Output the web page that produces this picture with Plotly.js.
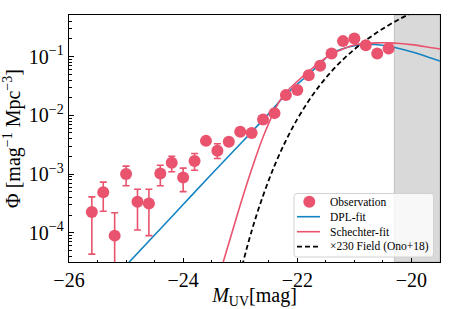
<!DOCTYPE html>
<html>
<head>
<meta charset="utf-8">
<script src="https://cdn.plot.ly/plotly-3.0.1.min.js"></script>
<style>html,body{margin:0;padding:0;background:#fff}#chart{width:463px;height:309px}</style>
</head>
<body>
<div id="chart"></div>
<script>
// Observed luminosity function
const M_obs = [-25.6,-25.4,-25.2,-25.0,-24.8,-24.6,-24.4,-24.2,-24.0,-23.8,-23.6,-23.4,-23.2,-23.0,-22.8,-22.6,-22.4,-22.2,-22.0,-21.8,-21.6,-21.4,-21.2,-21.0,-20.8,-20.6,-20.4];
const phi_obs = [2.26e-4,4.89e-4,8.9e-5,1.0e-3,3.35e-4,3.15e-4,1.02e-3,1.55e-3,8.7e-4,1.67e-3,3.67e-3,2.48e-3,3.53e-3,5.23e-3,5.02e-3,8.5e-3,1.09e-2,2.21e-2,2.69e-2,4.84e-2,6.97e-2,0.1135,0.184,0.204,0.157,0.1135,0.138];
const err_plus = [1.81e-4,2.37e-4,1.30e-4,3.6e-4,2.15e-4,2.35e-4,3.9e-4,4.6e-4,3.9e-4,5.7e-4,5e-4,8e-4,4e-4,5e-4,5e-4,8e-4,1e-3,2e-3,2.5e-3,4e-3,6e-3,1e-2,1.5e-2,1.6e-2,1.3e-2,1e-2,1.1e-2];
const err_minus = [1.83e-4,2.57e-4,8.5e-5,3.7e-4,2.24e-4,2.26e-4,3.9e-4,4.6e-4,3.7e-4,5.1e-4,4.5e-4,6.4e-4,3.5e-4,4.5e-4,4.5e-4,7e-4,9e-4,1.8e-3,2.2e-3,3.5e-3,5e-3,9e-3,1.3e-2,1.4e-2,1.1e-2,9e-3,1e-2];

// DPL fit
const M_dpl = [-25.0,-24.5,-24.0,-23.5,-23.0,-22.5,-22.2,-22.0,-21.8,-21.6,-21.4,-21.2,-21.0,-20.8,-20.6,-20.4,-20.2,-20.0,-19.75,-19.5];
const phi_dpl = [2.77e-5,9.12e-5,3.02e-4,1.0e-3,3.24e-3,1.07e-2,2.26e-2,3.39e-2,5.01e-2,7.67e-2,0.1135,0.1365,0.153,0.162,0.160,0.150,0.1365,0.1216,0.102,0.0841];

// Schechter fit
const M_sch = [-23.35,-23.2,-23.0,-22.8,-22.6,-22.4,-22.3,-22.2,-22.0,-21.8,-21.6,-21.4,-21.2,-21.0,-20.8,-20.6,-20.4,-20.2,-20.0,-19.75,-19.5];
const phi_sch = [2.14e-5,6.61e-5,2.95e-4,1.20e-3,4.27e-3,1.20e-2,1.82e-2,2.45e-2,3.80e-2,5.62e-2,8.13e-2,0.1096,0.1349,0.1585,0.168,0.1718,0.1718,0.168,0.1603,0.148,0.1349];

// x230 field (Ono+18)
const M_field = [-23.0,-22.8,-22.6,-22.4,-22.2,-22.0,-21.8,-21.6,-21.4,-21.2,-21.0,-20.8,-20.6,-20.4,-20.2,-20.0];
const phi_field = [2.04e-5,1.07e-4,4.27e-4,1.38e-3,3.72e-3,8.63e-3,1.77e-2,3.30e-2,5.62e-2,8.91e-2,0.133,0.190,0.260,0.344,0.442,0.553];

const x_ticks = [-26,-24,-22,-20];
const x_ticktext = ['\u221226','\u221224','\u221222','\u221220'];
const y_ticks = [1e-4,1e-3,1e-2,1e-1];
const y_ticktext = ['10<sup>\u22124</sup>','10<sup>\u22123</sup>','10<sup>\u22122</sup>','10<sup>\u22121</sup>'];
const shade_range = [-20.3, -19.5];
const legend_labels = ['Observation','DPL-fit','Schechter-fit','\u00d7230 Field (Ono+18)'];

const pink = '#e9536e';
const blue = '#1483c2';
const font = 'Liberation Serif, Times New Roman, serif';

// plot area in pixels (for the hand-drawn legend box)
const PL = 69, PR = 440, PT = 15, PB = 262;
const px = v => (v - PL) / (PR - PL);
const py = v => (PB - v) / (PB - PT);

const traces = [
  {x: M_dpl, y: phi_dpl, mode: 'lines', name: legend_labels[1],
   line: {color: blue, width: 1.6, shape: 'spline'}},
  {x: M_sch, y: phi_sch, mode: 'lines', name: legend_labels[2],
   line: {color: pink, width: 1.6, shape: 'spline'}},
  {x: M_field, y: phi_field, mode: 'lines', name: legend_labels[3],
   line: {color: '#000', width: 1.8, dash: '5px,3px', shape: 'spline'}},
  {x: M_obs, y: phi_obs, mode: 'markers', name: legend_labels[0],
   marker: {color: pink, size: 12},
   error_y: {type: 'data', symmetric: false, array: err_plus, arrayminus: err_minus,
             color: pink, thickness: 1.6, width: 3.5}}
];

// legend box (rounded rectangle)
const bx0 = 294, bx1 = 433.5, by0 = 193.5, by1 = 257, r = 3;
function roundRectPath() {
  const X = px, Y = py;
  return `M ${X(bx0 + r)} ${Y(by0)} L ${X(bx1 - r)} ${Y(by0)} Q ${X(bx1)} ${Y(by0)} ${X(bx1)} ${Y(by0 + r)} ` +
         `L ${X(bx1)} ${Y(by1 - r)} Q ${X(bx1)} ${Y(by1)} ${X(bx1 - r)} ${Y(by1)} ` +
         `L ${X(bx0 + r)} ${Y(by1)} Q ${X(bx0)} ${Y(by1)} ${X(bx0)} ${Y(by1 - r)} ` +
         `L ${X(bx0)} ${Y(by0 + r)} Q ${X(bx0)} ${Y(by0)} ${X(bx0 + r)} ${Y(by0)} Z`;
}
const rowY = [201.7, 216.7, 231.7, 246.7];
const shapes = [
  {type: 'rect', xref: 'x', yref: 'paper', x0: shade_range[0], x1: shade_range[1], y0: 0, y1: 1,
   fillcolor: 'rgba(128,128,128,0.3)', line: {color: 'rgba(128,128,128,0.35)', width: 1}, layer: 'below'},
  {type: 'path', xref: 'paper', yref: 'paper', path: roundRectPath(),
   fillcolor: 'rgba(255,255,255,0.8)', line: {color: '#d2d2d2', width: 1}, layer: 'above'},
  {type: 'circle', xref: 'paper', yref: 'paper', x0: px(303.3), x1: px(315.3), y0: py(rowY[0] + 6), y1: py(rowY[0] - 6),
   fillcolor: pink, line: {width: 0}, layer: 'above'},
  {type: 'line', xref: 'paper', yref: 'paper', x0: px(297), x1: px(320), y0: py(rowY[1]), y1: py(rowY[1]),
   line: {color: blue, width: 1.6}, layer: 'above'},
  {type: 'line', xref: 'paper', yref: 'paper', x0: px(297), x1: px(320), y0: py(rowY[2]), y1: py(rowY[2]),
   line: {color: pink, width: 1.6}, layer: 'above'},
  {type: 'line', xref: 'paper', yref: 'paper', x0: px(297), x1: px(320), y0: py(rowY[3]), y1: py(rowY[3]),
   line: {color: '#000', width: 1.8, dash: '5px,3px'}, layer: 'above'}
];
const annotations = legend_labels.map((t, i) => ({
  text: t, xref: 'paper', yref: 'paper', x: px(328), y: py(rowY[i]),
  xanchor: 'left', yanchor: 'middle', showarrow: false,
  font: {family: font, size: 11.5, color: '#000'}
}));

const layout = {
  width: 463, height: 309,
  margin: {l: PL, r: 463 - PR, t: PT, b: 309 - PB},
  paper_bgcolor: '#fff', plot_bgcolor: '#fff',
  font: {family: font, size: 20, color: '#000'},
  showlegend: false,
  xaxis: {range: [-26, -19.5], tickvals: x_ticks, ticktext: x_ticktext,
          ticks: 'inside', ticklen: 4, tickwidth: 1, tickcolor: '#000',
          showline: true, mirror: true, linecolor: '#000', linewidth: 1.3,
          showgrid: false, zeroline: false,
          minor: {dtick: 0.5, ticks: 'inside', ticklen: 2, tickcolor: '#000', showgrid: false},
          tickfont: {family: font, size: 20},
          title: {text: '<i>M</i><sub>UV</sub>[mag]', font: {family: font, size: 20}, standoff: 10}},
  yaxis: {type: 'log', range: [-4.5, -0.29], tickvals: y_ticks, ticktext: y_ticktext,
          ticks: 'inside', ticklen: 5, tickwidth: 1, tickcolor: '#000',
          showline: true, mirror: true, linecolor: '#000', linewidth: 1.3,
          showgrid: false, zeroline: false,
          minor: {dtick: 'D1', ticks: 'inside', ticklen: 2.5, tickcolor: '#000', showgrid: false},
          tickfont: {family: font, size: 20},
          title: {text: '\u03a6 [mag<sup>\u22121</sup> Mpc<sup>\u22123</sup>]', font: {family: font, size: 20}, standoff: 7}},
  shapes: shapes,
  annotations: annotations
};

Plotly.newPlot('chart', traces, layout, {displayModeBar: false, staticPlot: true});
</script>
</body>
</html>
